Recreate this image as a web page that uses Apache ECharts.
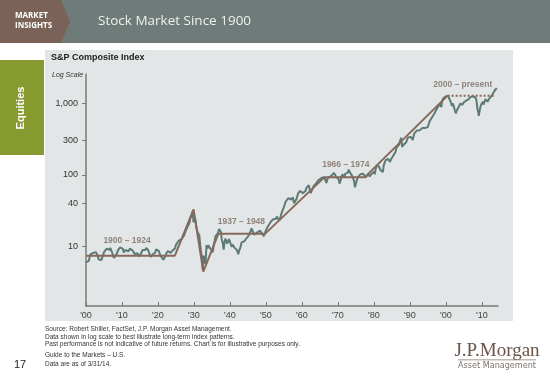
<!DOCTYPE html>
<html>
<head>
<meta charset="utf-8">
<script src="https://cdn.jsdelivr.net/npm/echarts@6/dist/echarts.min.js"></script>
<style>
html,body{margin:0;padding:0;background:#fff;}
#chart{width:550px;height:383px;}
</style>
</head>
<body>
<div id="chart"></div>
<script>
// ---- Data ----
const priceYears = [
1900.0,1900.25,1900.5,1900.75,1901.0,1901.25,1901.5,1901.75,1902.0,1902.25,1902.5,1902.75,
1903.0,1903.25,1903.5,1903.75,1904.0,1904.25,1904.5,1904.75,1905.0,1905.25,1905.5,1905.75,
1906.0,1906.25,1906.5,1906.75,1907.0,1907.25,1907.5,1907.75,1908.0,1908.25,1908.5,1908.75,
1909.0,1909.25,1909.5,1909.75,1910.0,1910.25,1910.5,1910.75,1911.0,1911.25,1911.5,1911.75,
1912.0,1912.25,1912.5,1912.75,1913.0,1913.25,1913.5,1913.75,1914.0,1914.25,1914.5,1914.75,
1915.0,1915.25,1915.5,1915.75,1916.0,1916.25,1916.5,1916.75,1917.0,1917.25,1917.5,1917.75,
1918.0,1918.25,1918.5,1918.75,1919.0,1919.25,1919.5,1919.75,1920.0,1920.25,1920.5,1920.75,
1921.0,1921.25,1921.5,1921.75,1922.0,1922.25,1922.5,1922.75,1923.0,1923.25,1923.5,1923.75,
1924.0,1924.25,1924.5,1924.75,1925.0,1925.25,1925.5,1925.75,1926.0,1926.25,1926.5,1926.75,
1927.0,1927.25,1927.5,1927.75,1928.0,1928.25,1928.5,1928.75,1929.0,1929.25,1929.5,1929.7,
1929.85,1930.0,1930.3,1930.5,1930.75,1931.0,1931.25,1931.5,1931.75,1932.0,1932.25,1932.45,
1932.7,1933.0,1933.2,1933.5,1933.75,1934.0,1934.25,1934.5,1934.75,1935.0,1935.25,1935.5,
1935.75,1936.0,1936.25,1936.5,1936.75,1937.0,1937.15,1937.5,1937.75,1938.0,1938.25,1938.5,
1938.75,1939.0,1939.25,1939.5,1939.75,1940.0,1940.25,1940.5,1940.75,1941.0,1941.25,1941.5,
1941.75,1942.0,1942.3,1942.5,1942.75,1943.0,1943.25,1943.5,1943.75,1944.0,1944.25,1944.5,
1944.75,1945.0,1945.25,1945.5,1945.75,1946.0,1946.4,1946.75,1947.0,1947.25,1947.5,1947.75,
1948.0,1948.4,1948.75,1949.0,1949.4,1949.75,1950.0,1950.4,1950.6,1950.75,1951.0,1951.25,
1951.5,1951.75,1952.0,1952.25,1952.5,1952.75,1953.0,1953.25,1953.7,1954.0,1954.25,1954.5,
1954.75,1955.0,1955.25,1955.5,1955.75,1956.0,1956.25,1956.5,1956.75,1957.0,1957.25,1957.5,
1957.8,1958.0,1958.25,1958.5,1958.75,1959.0,1959.25,1959.5,1959.75,1960.0,1960.25,1960.5,
1960.8,1961.0,1961.25,1961.5,1961.9,1962.0,1962.25,1962.45,1962.75,1963.0,1963.25,1963.5,
1963.75,1964.0,1964.25,1964.5,1964.75,1965.0,1965.25,1965.45,1965.75,1966.0,1966.25,1966.5,
1966.8,1967.0,1967.25,1967.5,1967.75,1968.0,1968.2,1968.5,1968.9,1969.0,1969.25,1969.5,
1969.75,1970.0,1970.25,1970.45,1970.75,1971.0,1971.25,1971.5,1971.85,1972.0,1972.25,1972.5,
1972.75,1973.0,1973.25,1973.5,1973.75,1974.0,1974.25,1974.5,1974.75,1974.95,1975.25,1975.5,
1975.75,1976.0,1976.25,1976.5,1976.75,1977.0,1977.25,1977.5,1977.75,1978.0,1978.2,1978.6,
1978.85,1979.0,1979.25,1979.5,1979.75,1980.0,1980.25,1980.5,1980.85,1981.0,1981.25,1981.5,
1981.75,1982.0,1982.25,1982.5,1982.75,1983.0,1983.25,1983.5,1983.75,1984.0,1984.25,1984.5,
1984.75,1985.0,1985.25,1985.5,1985.75,1986.0,1986.25,1986.5,1986.75,1987.0,1987.25,1987.6,
1987.85,1988.0,1988.25,1988.5,1988.75,1989.0,1989.25,1989.5,1989.75,1990.0,1990.25,1990.5,
1990.8,1991.0,1991.25,1991.5,1991.75,1992.0,1992.25,1992.5,1992.75,1993.0,1993.25,1993.5,
1993.75,1994.0,1994.25,1994.5,1994.75,1995.0,1995.25,1995.5,1995.75,1996.0,1996.25,1996.5,
1996.75,1997.0,1997.25,1997.5,1997.75,1998.0,1998.25,1998.5,1998.75,1999.0,1999.25,1999.5,
1999.75,2000.0,2000.25,2000.5,2000.7,2000.9,2001.0,2001.25,2001.5,2001.7,2002.0,2002.25,
2002.5,2002.8,2003.0,2003.2,2003.5,2003.75,2004.0,2004.25,2004.6,2004.9,2005.0,2005.3,
2005.5,2005.75,2006.0,2006.3,2006.5,2006.75,2007.0,2007.25,2007.5,2007.8,2008.0,2008.25,
2008.5,2008.8,2009.0,2009.15,2009.5,2009.75,2010.0,2010.3,2010.45,2010.75,2011.0,2011.3,
2011.6,2011.8,2012.0,2012.25,2012.45,2012.75,2013.0,2013.25,2013.5,2013.75,2014.0,2014.2
];
const priceValues = [
6.1,6.0,5.9,6.3,7.1,7.8,8.2,8.0,8.2,8.5,8.6,8.4,
7.9,7.5,6.7,6.3,6.4,6.5,6.8,7.6,8.4,8.9,8.7,9.4,
9.9,9.5,9.0,9.6,9.6,8.3,8.4,7.0,6.9,7.4,7.9,8.5,
9.1,9.3,9.8,10.2,9.96,9.3,8.3,8.8,9.05,9.2,9.3,8.6,
9.1,9.4,9.5,9.6,8.8,8.4,7.9,8.1,8.2,8.1,7.6,7.3,
7.5,8.0,8.2,9.0,9.3,9.0,9.0,9.6,9.6,9.0,8.9,7.7,
7.2,7.4,7.8,8.1,7.85,8.3,9.2,9.3,8.8,8.7,7.9,7.8,
7.1,7.0,6.6,6.8,7.3,7.9,8.3,8.7,8.9,9.2,8.2,8.3,
8.8,8.6,9.2,9.5,10.6,10.4,11.3,12.1,12.6,11.5,12.6,13.1,
13.4,14.3,15.1,16.9,17.5,19.0,18.9,21.5,24.9,24.8,28.5,31.3,
22.0,21.7,25.5,21.2,18.0,15.98,16.6,14.3,10.5,8.3,7.0,4.77,
7.5,7.1,5.8,10.5,9.4,10.5,10.6,9.5,9.3,9.3,8.4,10.6,
12.0,14.0,14.8,15.0,16.0,17.6,18.1,16.0,12.5,11.3,9.1,11.6,
13.0,12.5,11.0,11.5,12.8,12.3,12.2,9.9,10.7,10.55,9.7,10.1,
9.6,8.9,7.84,8.6,9.3,10.1,11.5,12.1,11.6,11.9,11.9,12.9,
12.9,13.5,14.4,14.8,16.4,18.0,18.7,14.7,15.2,14.6,15.7,15.1,
14.8,16.7,15.6,15.4,14.0,15.6,16.9,18.6,17.6,19.9,21.2,21.8,
21.6,23.0,24.2,23.8,25.1,24.3,26.2,25.0,23.3,25.5,28.3,30.9,
32.2,35.6,37.9,42.6,42.3,44.2,47.6,48.8,45.8,45.4,45.7,48.5,
40.4,41.1,42.3,46.0,51.3,55.6,57.1,59.7,57.5,58.0,55.7,55.5,
53.7,59.7,65.8,65.4,71.7,69.1,68.8,55.6,56.2,65.1,69.8,69.1,
72.6,76.5,79.5,83.2,84.8,86.1,89.1,84.1,89.9,93.3,91.6,85.8,
77.1,84.5,90.9,93.0,95.7,95.0,89.1,100.3,106.5,102.0,101.3,94.7,
97.1,90.3,86.0,75.6,83.0,93.5,102.0,99.0,92.8,103.3,108.0,107.2,
107.5,118.4,110.3,105.8,109.8,96.1,90.3,82.8,67.1,67.1,83.4,92.5,
88.6,96.9,101.9,104.2,101.9,103.8,99.1,99.6,92.7,90.3,88.8,103.9,
94.7,99.7,101.8,102.7,103.0,110.9,102.1,121.7,135.7,133.0,134.4,129.1,
118.3,117.3,115.8,109.4,135.5,144.3,160.1,166.4,166.0,166.4,157.5,151.1,
164.8,171.6,180.6,192.5,187.2,208.2,237.0,245.3,237.4,264.5,292.7,329.4,
245.0,250.5,263.0,270.7,277.4,285.4,309.6,331.9,347.4,340.0,338.2,360.0,
307.1,325.5,379.0,378.3,387.2,416.1,412.3,414.8,418.7,435.2,442.0,449.0,
468.7,472.9,448.0,453.7,465.0,465.3,509.0,558.0,582.0,614.4,650.0,644.0,
705.0,712,708,833,833,838,967,1000,887,1086,1161,1201,
1131,1240,1250,1280,1265,1165,1160,1080,1045,910,990,940,
795,715,780,740,865,905,985,975,945,1015,1030,1010,
1070,1050,1110,1125,1080,1200,1240,1260,1245,1285,1180,1190,
1090,820,760,665,830,940,990,1045,955,1040,1130,1180,
1045,1065,1145,1220,1165,1265,1300,1400,1470,1540,1580,1610
];
// Long-term trend segments
const trendYears  = [1900, 1924.7, 1929.9, 1932.6, 1936.8, 1949.8, 1966.3, 1977.5, 2000.5];
const trendValues = [7.5, 7.5, 33, 4.5, 15.2, 15.2, 93, 93, 1270];
const flatYears   = [2000.5, 2013.8];
const flatValues  = [1270, 1270];
// Period annotations
const periodLabels = ['1900 \u2013 1924', '1937 \u2013 1948', '1966 \u2013 1974', '2000 \u2013 present'];
const periodYears  = [1911.4, 1943.2, 1972.2, 2004.7];
const periodValues = [12.1, 22.1, 141, 1780];
// Axis ticks
const yTicks = [10, 40, 100, 300, 1000];
const xTicks = [1900, 1910, 1920, 1930, 1940, 1950, 1960, 1970, 1980, 1990, 2000, 2010];

const chart = echarts.init(document.getElementById('chart'), null, {renderer: 'canvas'});
const zip = (a, b) => a.map((v, i) => [v, b[i]]);
const brown = '#86695c';
const footFont = '6.5px "Liberation Sans", Arial, sans-serif';

const option = {
  backgroundColor: '#ffffff',
  animation: false,
  grid: {left: 86, right: 52, top: 74, bottom: 77, containLabel: false},
  xAxis: {
    type: 'value', min: 1900, max: 2014.5,
    axisLine: {lineStyle: {color: '#7a7a7a', width: 1.5}},
    axisTick: {inside: true, length: 4, lineStyle: {color: '#7a7a7a'}, customValues: xTicks},
    axisLabel: {customValues: xTicks, color: '#444', fontSize: 9, margin: 5,
      fontFamily: '"Liberation Sans", Arial, sans-serif',
      formatter: v => "'" + String(Math.round(v) % 100).padStart(2, '0')},
    splitLine: {show: false}
  },
  yAxis: {
    type: 'log', logBase: 10, min: 1.493, max: 2541,
    axisLine: {show: true, lineStyle: {color: '#7a7a7a', width: 1.5}},
    axisTick: {show: true, length: 4, lineStyle: {color: '#7a7a7a'}, customValues: yTicks},
    axisLabel: {customValues: yTicks, color: '#333', fontSize: 9, margin: 8,
      fontFamily: '"Liberation Sans", Arial, sans-serif',
      formatter: v => Math.round(v).toLocaleString('en-US')},
    splitLine: {show: false}
  },
  series: [
    {type: 'line', data: zip(priceYears, priceValues), showSymbol: false, z: 3,
     lineStyle: {color: '#5d7a75', width: 2}},
    {type: 'line', data: zip(trendYears, trendValues), showSymbol: false, z: 4,
     lineStyle: {color: brown, width: 2}},
    {type: 'line', data: zip(flatYears, flatValues), showSymbol: false, z: 4,
     lineStyle: {color: brown, width: 2, type: [2, 2]}},
    {type: 'scatter', symbolSize: 1, itemStyle: {color: 'transparent'}, z: 5,
     data: periodYears.map((y, i) => ({value: [y, periodValues[i]], name: periodLabels[i]})),
     label: {show: true, position: 'inside', formatter: p => p.name, color: '#7b6a62',
       fontSize: 8.5, fontWeight: 'bold', fontFamily: '"Liberation Sans", Arial, sans-serif'}}
  ],
  graphic: [
    {type: 'rect', z: -10, shape: {x: 45, y: 50, width: 468, height: 271}, style: {fill: '#e2e6e6'}},
    {type: 'rect', shape: {x: 0, y: 0, width: 550, height: 43}, style: {fill: '#6e7b79'}},
    {type: 'polygon', shape: {points: [[0,0],[61,0],[70,21.5],[61,43],[0,43]]}, style: {fill: '#7a6258'}},
    {type: 'text', x: 15, y: 16, style: {text: 'MARKET', fill: '#fff', font: 'bold 8px "Open Sans", Arial, sans-serif', verticalAlign: 'middle'}},
    {type: 'text', x: 15, y: 26, style: {text: 'INSIGHTS', fill: '#fff', font: 'bold 8px "Open Sans", Arial, sans-serif', verticalAlign: 'middle'}},
    {type: 'text', x: 98, y: 21, style: {text: 'Stock Market Since 1900', fill: '#eef0ef', font: '13.5px "Open Sans", Arial, sans-serif', verticalAlign: 'middle'}},
    {type: 'rect', shape: {x: 0, y: 60, width: 44, height: 95}, style: {fill: '#869a30'}},
    {type: 'text', x: 21, y: 108, rotation: Math.PI / 2,
     style: {text: 'Equities', fill: '#fff', font: 'bold 11px "Liberation Sans", Arial, sans-serif', align: 'center', verticalAlign: 'middle'}},
    {type: 'text', x: 51, y: 58, style: {text: 'S&P Composite Index', fill: '#222', font: 'bold 9px "Liberation Sans", Arial, sans-serif', verticalAlign: 'middle'}},
    {type: 'text', x: 52, y: 75.5, style: {text: 'Log Scale', fill: '#333', font: 'italic 7px "Liberation Sans", Arial, sans-serif', verticalAlign: 'middle'}},
    {type: 'text', x: 45, y: 329.5, style: {text: 'Source: Robert Shiller, FactSet, J.P. Morgan Asset Management.', fill: '#333', font: footFont, verticalAlign: 'middle'}},
    {type: 'text', x: 45, y: 337, style: {text: 'Data shown in log scale to best illustrate long-term index patterns.', fill: '#333', font: footFont, verticalAlign: 'middle'}},
    {type: 'text', x: 45, y: 344.5, style: {text: 'Past performance is not indicative of future returns. Chart is for illustrative purposes only.', fill: '#333', font: footFont, verticalAlign: 'middle'}},
    {type: 'text', x: 45, y: 355, style: {text: 'Guide to the Markets \u2013 U.S.', fill: '#333', font: footFont, verticalAlign: 'middle'}},
    {type: 'text', x: 45, y: 364.5, style: {text: 'Data are as of 3/31/14.', fill: '#333', font: footFont, verticalAlign: 'middle'}},
    {type: 'text', x: 20, y: 365, style: {text: '17', fill: '#222', font: '11px "Liberation Sans", Arial, sans-serif', align: 'center', verticalAlign: 'middle'}},
    {type: 'text', x: 497, y: 351, style: {text: 'J.P.Morgan', fill: '#6b5447', font: '19px "Liberation Serif", "Times New Roman", serif', align: 'center', verticalAlign: 'middle'}},
    {type: 'rect', shape: {x: 458, y: 359.5, width: 78, height: 0.8}, style: {fill: '#8a7468'}},
    {type: 'text', x: 497, y: 366, style: {text: 'Asset Management', fill: '#7d7470', font: '9px "DejaVu Sans Condensed", "Liberation Sans Narrow", Arial, sans-serif', align: 'center', verticalAlign: 'middle'}}
  ]
};
chart.setOption(option);
</script>
</body>
</html>
